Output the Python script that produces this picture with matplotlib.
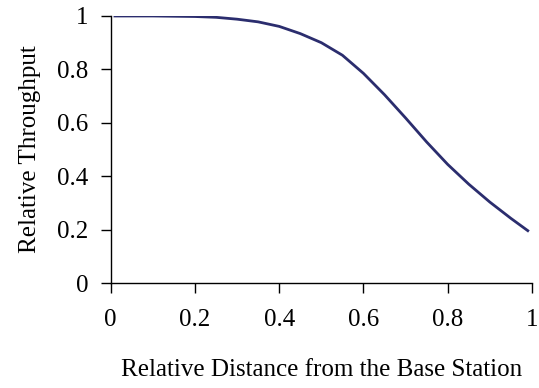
import matplotlib
matplotlib.use("Agg")
import matplotlib.pyplot as plt

# values
distance = [0.01, 0.05, 0.10, 0.15, 0.20, 0.25, 0.30, 0.35, 0.40, 0.45, 0.50,
            0.55, 0.60, 0.65, 0.70, 0.75, 0.80, 0.85, 0.90, 0.95, 0.99]
throughput = [1.000, 1.000, 1.000, 0.999, 0.998, 0.995, 0.988, 0.978, 0.961, 0.934, 0.900,
              0.853, 0.785, 0.705, 0.618, 0.528, 0.444, 0.370, 0.303, 0.242, 0.196]

xticks = [0, 0.2, 0.4, 0.6, 0.8, 1]
xticklabels = ["0", "0.2", "0.4", "0.6", "0.8", "1"]
yticks = [0, 0.2, 0.4, 0.6, 0.8, 1]
yticklabels = ["0", "0.2", "0.4", "0.6", "0.8", "1"]

plt.rcParams['font.family'] = ['Liberation Serif', 'DejaVu Serif']

fig = plt.figure(figsize=(5.39, 3.88), dpi=100)
ax = fig.add_axes([0.2054, 0.2706, 0.7816, 0.6882])

ax.plot(distance, throughput, color='#2b2d6e', lw=2, solid_joinstyle='round')

ax.set_xlim(0, 1)
ax.set_ylim(0, 1)
ax.set_xticks(xticks)
ax.set_xticklabels(xticklabels)
ax.set_yticks(yticks)
ax.set_yticklabels(yticklabels)

for s in ['top', 'right']:
    ax.spines[s].set_visible(False)
for s in ['left', 'bottom']:
    ax.spines[s].set_linewidth(1)
    ax.spines[s].set_color('black')

ax.tick_params(axis='both', direction='out', length=7, width=1, labelsize=18)
ax.tick_params(axis='x', pad=12)
ax.tick_params(axis='y', pad=9)

ax.set_xlabel('Relative Distance from the Base Station', fontsize=18, labelpad=20)
ax.set_ylabel('Relative Throughput', fontsize=18, labelpad=12)

fig.savefig('out.png', dpi=100)
